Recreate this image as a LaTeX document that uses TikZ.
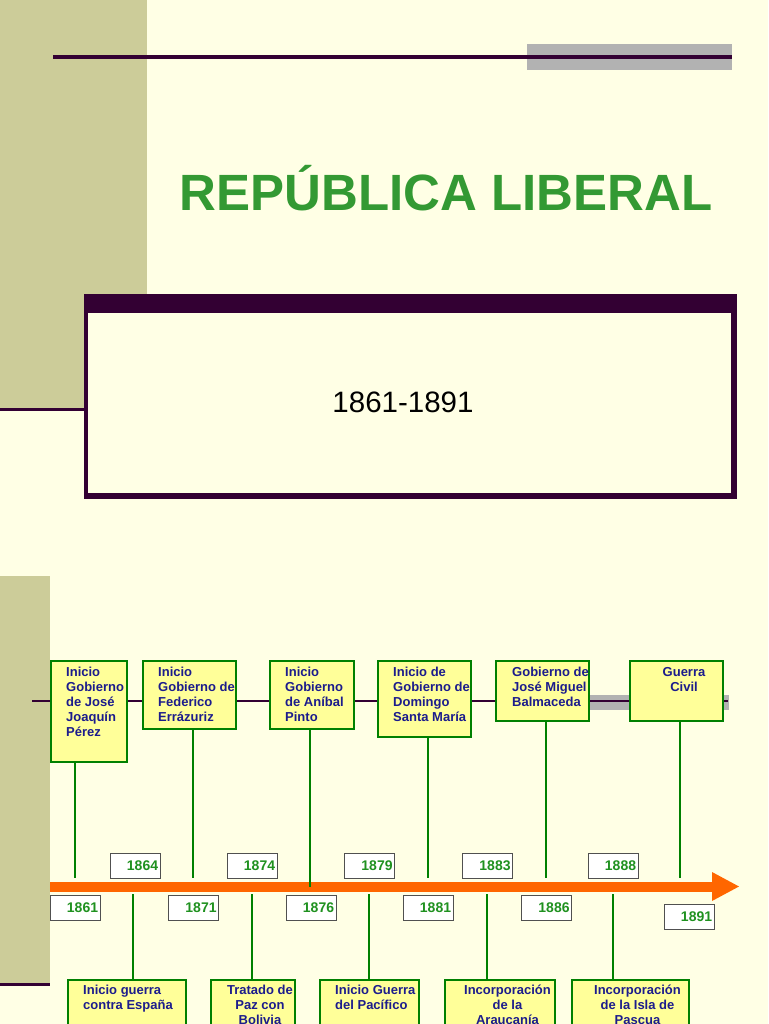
\documentclass[tikz,border=0pt]{standalone}
\usepackage{fontspec}
\setmainfont{Liberation Sans}
\definecolor{bg}{RGB}{255,255,229}
\definecolor{olive}{RGB}{204,204,153}
\definecolor{darkp}{RGB}{51,0,51}
\definecolor{greyband}{RGB}{178,178,178}
\definecolor{titlegreen}{RGB}{51,153,51}
\definecolor{evgreen}{RGB}{0,128,0}
\definecolor{evfill}{RGB}{255,255,153}
\definecolor{navy}{RGB}{28,28,140}
\definecolor{yeargreen}{RGB}{31,145,31}
\definecolor{arroworange}{RGB}{255,102,0}
\definecolor{yearborder}{RGB}{80,80,80}
\begin{document}
\begin{tikzpicture}[x=1pt,y=-1pt,
  evbox/.style={draw=evgreen, line width=1.8pt, fill=evfill, anchor=north west, inner sep=0pt},
  evtext/.style={text=navy, font=\fontsize{13}{15}\selectfont\bfseries, inner sep=0pt, align=left},
  yearbox/.style={draw=yearborder, line width=1.2pt, fill=white, minimum height=25pt, text width=46pt,
    inner xsep=2pt, inner ysep=0pt, align=right, font=\fontsize{14}{16}\selectfont\bfseries,
    text=yeargreen, anchor=north west},
  conn/.style={draw=evgreen, line width=2.6pt},
  darkline/.style={draw=darkp}]
\clip (0,0) rectangle (768,1024);
\fill[bg] (0,0) rectangle (768,1024);
% side panels
\fill[olive] (0,0) rectangle (147,409);
\fill[olive] (0,576) rectangle (50,984);
\draw[darkline, line width=3pt] (0,409.5) -- (86,409.5);
\draw[darkline, line width=3pt] (0,984.5) -- (50,984.5);
% top band
\fill[greyband] (527,44) rectangle (732,70);
\draw[darkline, line width=4pt] (53,57.5) -- (732,57.5);
% title
\node[text=titlegreen, font=\fontsize{51}{60}\selectfont\bfseries, anchor=base, inner sep=0pt] (title) at (446,211) {REPÚBLICA LIBERAL};
% period box
\fill[darkp] (84,294) rectangle (737,499);
\fill[bg] (88,313) rectangle (731,493);
\node[font=\fontsize{29.5}{34}\selectfont, inner sep=0pt, anchor=base] (period) at (403,412) {1861-1891};
% timeline line
\fill[greyband] (588,695) rectangle (729,710);
\draw[darkline, line width=2pt] (32,701) -- (728,701);
% orange arrow
\fill[arroworange] (50,882) rectangle (712,892);
\fill[arroworange] (712,872) -- (739,886.5) -- (712,901) -- cycle;
% top event boxes
\node[evbox, minimum width=76pt, minimum height=101pt] (e1) at (50,660) {};
\node[evbox, minimum width=93pt, minimum height=68pt] (e2) at (142,660) {};
\node[evbox, minimum width=84pt, minimum height=68pt] (e3) at (269,660) {};
\node[evbox, minimum width=93pt, minimum height=76pt] (e4) at (377,660) {};
\node[evbox, minimum width=93pt, minimum height=60pt] (e5) at (495,660) {};
\node[evbox, minimum width=93pt, minimum height=60pt] (e6) at (629,660) {};
\node[evtext, anchor=north west] (e1t) at (66,667) {Inicio\\Gobierno\\de José\\Joaquín\\Pérez};
\node[evtext, anchor=north west] (e2t) at (158,667) {Inicio\\Gobierno de\\Federico\\Errázuriz};
\node[evtext, anchor=north west] (e3t) at (285,667) {Inicio\\Gobierno\\de Aníbal\\Pinto};
\node[evtext, anchor=north west] (e4t) at (393,667) {Inicio de\\Gobierno de\\Domingo\\Santa María};
\node[evtext, anchor=north west] (e5t) at (512,667) {Gobierno de\\José Miguel\\Balmaceda};
\node[evtext, anchor=north, align=center] (e6t) at (684,667) {Guerra\\Civil};
% timeline points
\coordinate (t1) at (75,878);
\coordinate (t2) at (193,878);
\coordinate (t3) at (310,887);
\coordinate (t4) at (428,878);
\coordinate (t5) at (546,878);
\coordinate (t6) at (680,878);
\draw[conn] (e1.south -| t1) -- (t1);
\draw[conn] (e2.south -| t2) -- (t2);
\draw[conn] (e3.south -| t3) -- (t3);
\draw[conn] (e4.south -| t4) -- (t4);
\draw[conn] (e5.south -| t5) -- (t5);
\draw[conn] (e6.south -| t6) -- (t6);
% bottom event boxes
\node[evbox, minimum width=118pt, minimum height=70pt] (f1) at (67,979) {};
\node[evbox, minimum width=84pt, minimum height=70pt] (f2) at (210,979) {};
\node[evbox, minimum width=99pt, minimum height=70pt] (f3) at (319,979) {};
\node[evbox, minimum width=110pt, minimum height=70pt] (f4) at (444,979) {};
\node[evbox, minimum width=117pt, minimum height=70pt] (f5) at (571,979) {};
\node[evtext, anchor=north west] (f1t) at (83,985) {Inicio guerra\\contra España};
\node[evtext, anchor=north, align=center] (f2t) at (260,985) {Tratado de\\Paz con\\Bolivia};
\node[evtext, anchor=north west] (f3t) at (335,985) {Inicio Guerra\\del Pacífico};
\node[evtext, anchor=north, align=center] (f4t) at (507.5,985) {Incorporación\\de la\\Araucanía};
\node[evtext, anchor=north, align=center] (f5t) at (637.5,985) {Incorporación\\de la Isla de\\Pascua};
\coordinate (s1) at (133,894);
\coordinate (s2) at (252,894);
\coordinate (s3) at (369,894);
\coordinate (s4) at (487,894);
\coordinate (s5) at (613,894);
\draw[conn] (s1) -- (s1 |- f1.north);
\draw[conn] (s2) -- (s2 |- f2.north);
\draw[conn] (s3) -- (s3 |- f3.north);
\draw[conn] (s4) -- (s4 |- f4.north);
\draw[conn] (s5) -- (s5 |- f5.north);
% year boxes
\node[yearbox] (y1864) at (109.5,853) {1864};
\node[yearbox] (y1874) at (226.5,853) {1874};
\node[yearbox] (y1879) at (344,853) {1879};
\node[yearbox] (y1883) at (462,853) {1883};
\node[yearbox] (y1888) at (587.5,853) {1888};
\node[yearbox] (y1861) at (49.5,895) {1861};
\node[yearbox] (y1871) at (168,895) {1871};
\node[yearbox] (y1876) at (285.5,895) {1876};
\node[yearbox] (y1881) at (402.5,895) {1881};
\node[yearbox] (y1886) at (521,895) {1886};
\node[yearbox] (y1891) at (663.5,904) {1891};
\end{tikzpicture}
\end{document}
